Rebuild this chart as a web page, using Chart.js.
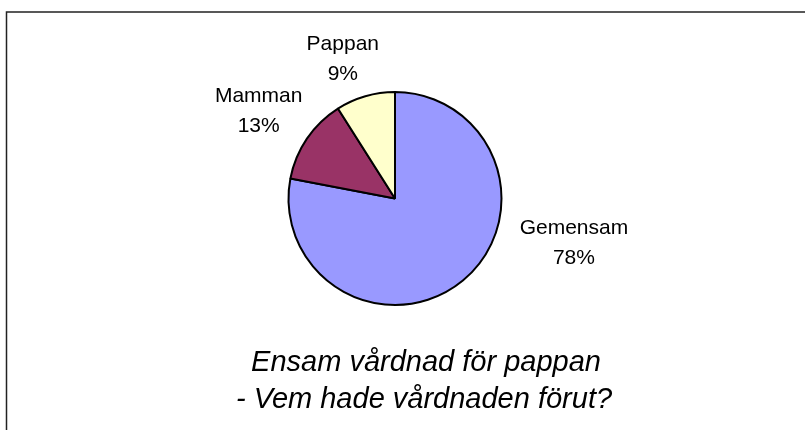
<!DOCTYPE html>
<html>
<head>
<meta charset="utf-8">
<script src="https://cdn.jsdelivr.net/npm/chart.js@4.4.0/dist/chart.umd.min.js"></script>
<style>
  html, body { margin: 0; padding: 0; background: #fff; }
  #myChart { display: block; }
</style>
</head>
<body>
<canvas id="myChart" width="805" height="430"></canvas>
<script>
var categories = ["Gemensam", "Mamman", "Pappan"];
var values = [78, 13, 9];
var sliceColors = ["#9999FF", "#993366", "#FFFFCC"];
var titleLines = ["Ensam vårdnad för pappan", "- Vem hade vårdnaden förut?"];

// label block centres, as multiples of the pie radius from the centre
var labelOffsets = [[1.68, 0.42], [-1.28, -0.82], [-0.49, -1.31]];

var decorations = {
    id: 'decorations',
    afterDraw: function(chart) {
        var ctx = chart.ctx;
        ctx.save();

        // frame (top and left edges visible)
        ctx.strokeStyle = '#222';
        ctx.lineWidth = 1.5;
        ctx.beginPath();
        ctx.moveTo(6.5, 430);
        ctx.lineTo(6.5, 12);
        ctx.lineTo(805, 12);
        ctx.stroke();

        // slice labels
        var meta = chart.getDatasetMeta(0);
        var total = values.reduce(function(a, b) { return a + b; }, 0);
        ctx.fillStyle = '#000';
        ctx.font = '21px "Liberation Sans", Arial, sans-serif';
        ctx.textAlign = 'center';
        ctx.textBaseline = 'middle';
        meta.data.forEach(function(arc, i) {
            var r = arc.outerRadius;
            var x = arc.x + labelOffsets[i][0] * r;
            var y = arc.y + labelOffsets[i][1] * r;
            ctx.fillText(categories[i], x, y - 15);
            ctx.fillText(Math.round(values[i] / total * 100) + '%', x, y + 15);
        });

        // title under the pie
        ctx.font = 'italic 29px "Liberation Sans", Arial, sans-serif';
        ctx.fillText(titleLines[0], 426, 363);
        ctx.fillText(titleLines[1], 424, 400);

        ctx.restore();
    }
};

var ctx = document.getElementById('myChart').getContext('2d');
var myChart = new Chart(ctx, {
    type: 'pie',
    data: {
        labels: categories,
        datasets: [{
            data: values,
            backgroundColor: sliceColors,
            borderColor: '#000',
            borderWidth: 2
        }]
    },
    options: {
        responsive: false,
        animation: false,
        layout: {
            padding: { left: 287, right: 302, top: 91, bottom: 124 }
        },
        plugins: {
            legend: { display: false },
            tooltip: { enabled: false }
        }
    },
    plugins: [decorations]
});
</script>
</body>
</html>
